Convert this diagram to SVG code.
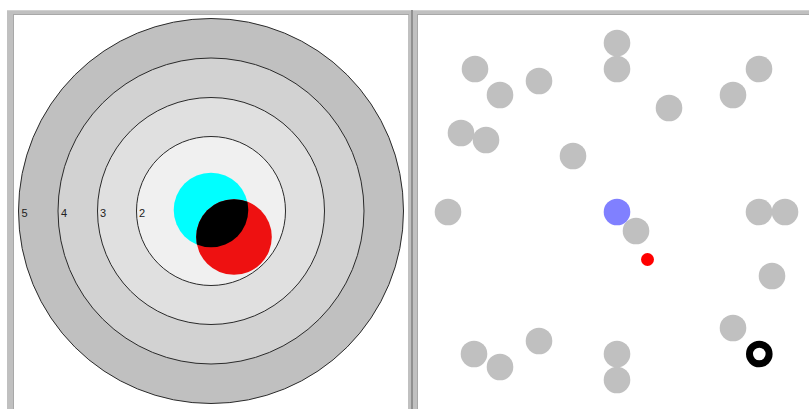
<svg xmlns="http://www.w3.org/2000/svg" width="809" height="409" viewBox="0 0 809 409">
<style>
.ring{stroke:#2a2a2a;stroke-width:1}
.lbl{font-family:"Liberation Sans",Arial,sans-serif;font-size:11px;fill:#222}
.dot{fill:#c0c0c0}
</style>
<rect width="809" height="409" fill="#ffffff"/>
<g id="frames">
<rect x="7" y="10" width="802" height="399" fill="#c0c0c0"/>
<rect x="7" y="10" width="802" height="1" fill="#d0d0d0"/>
<rect x="13" y="14" width="396" height="1" fill="#a8a8a8"/>
<rect x="13" y="14" width="1" height="395" fill="#a8a8a8"/>
<rect x="417" y="14" width="392" height="1" fill="#a8a8a8"/>
<rect x="417" y="14" width="1" height="395" fill="#a8a8a8"/>
<rect x="411" y="10" width="2" height="399" fill="#909090"/>
<rect x="14" y="15" width="394" height="394" fill="#ffffff"/>
<rect x="418" y="15" width="391" height="394" fill="#ffffff"/>
</g>
<g id="target">
<circle class="ring" cx="211" cy="211" r="192.5" fill="#c0c0c0"/>
<circle class="ring" cx="211" cy="211" r="153" fill="#d2d2d2"/>
<circle class="ring" cx="211" cy="211" r="113.5" fill="#e0e0e0"/>
<circle class="ring" cx="211" cy="211" r="74.5" fill="#f0f0f0"/>
<text class="lbl" x="21.5" y="217">5</text>
<text class="lbl" x="61" y="217">4</text>
<text class="lbl" x="100" y="217">3</text>
<text class="lbl" x="139" y="217">2</text>
</g>
<defs>
<clipPath id="cy"><circle cx="211" cy="210" r="37.3"/></clipPath>
</defs>
<g id="hits">
<circle cx="211" cy="210" r="37.3" fill="#00ffff"/>
<circle cx="234" cy="237" r="37.8" fill="#ee1111"/>
<circle cx="234" cy="237" r="37.8" fill="#000000" clip-path="url(#cy)"/>
</g>
<g id="field">
<circle class="dot" cx="617" cy="43" r="13.3"/>
<circle class="dot" cx="475" cy="69" r="13.3"/>
<circle class="dot" cx="617" cy="69" r="13.3"/>
<circle class="dot" cx="539" cy="81" r="13.3"/>
<circle class="dot" cx="759" cy="69" r="13.3"/>
<circle class="dot" cx="500" cy="95" r="13.3"/>
<circle class="dot" cx="733" cy="95" r="13.3"/>
<circle class="dot" cx="669" cy="108" r="13.3"/>
<circle class="dot" cx="461" cy="133" r="13.3"/>
<circle class="dot" cx="486" cy="140" r="13.3"/>
<circle class="dot" cx="573" cy="156" r="13.3"/>
<circle class="dot" cx="448" cy="212" r="13.3"/>
<circle class="dot" cx="759" cy="212" r="13.3"/>
<circle class="dot" cx="785" cy="212" r="13.3"/>
<circle class="dot" cx="636" cy="231" r="13.3"/>
<circle class="dot" cx="772" cy="276" r="13.3"/>
<circle class="dot" cx="733" cy="328" r="13.3"/>
<circle class="dot" cx="539" cy="341" r="13.3"/>
<circle class="dot" cx="474" cy="354" r="13.3"/>
<circle class="dot" cx="500" cy="367" r="13.3"/>
<circle class="dot" cx="617" cy="354" r="13.3"/>
<circle class="dot" cx="617" cy="380" r="13.3"/>
<circle cx="617" cy="212" r="13.3" fill="#8080ff"/>
<circle cx="647.5" cy="259.5" r="6.5" fill="#ff0000"/>
<circle cx="759.3" cy="354" r="9.8" fill="none" stroke="#000000" stroke-width="7"/>
</g>
</svg>
